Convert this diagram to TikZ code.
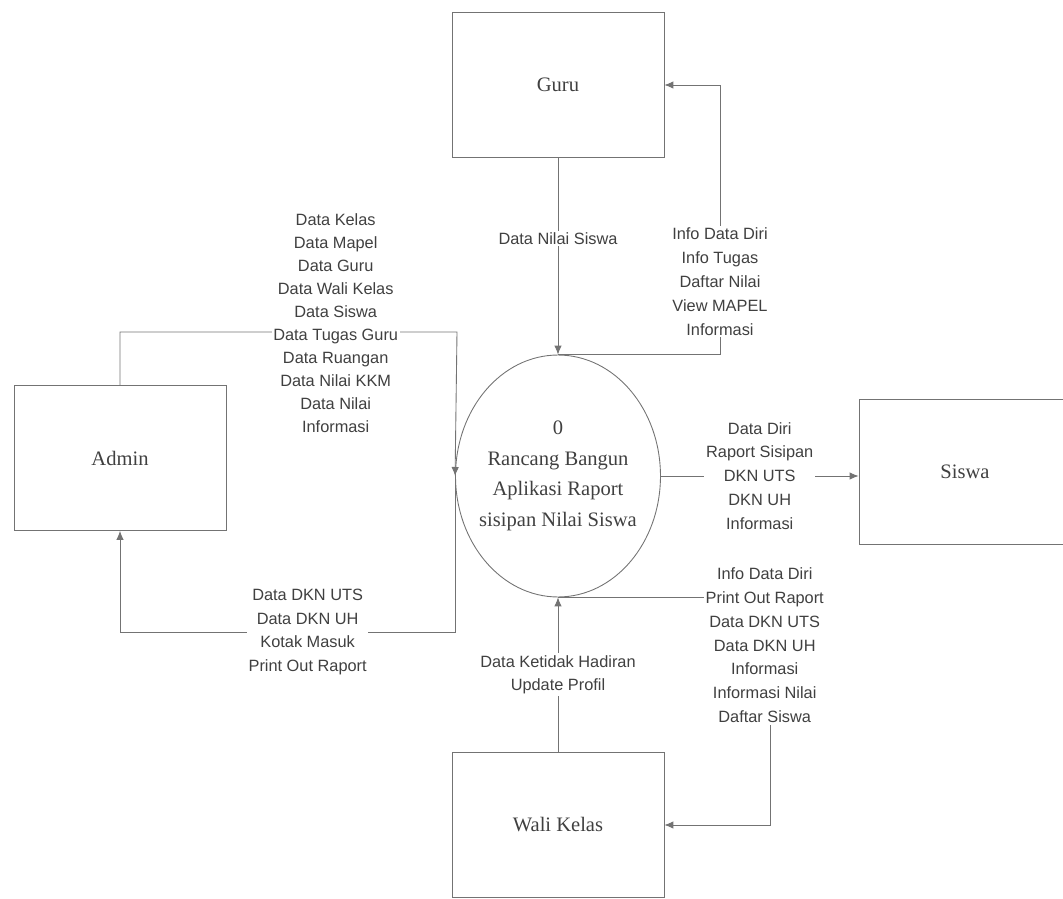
\documentclass[tikz,border=0pt]{standalone}
\usepackage{fontspec}
\setmainfont{Liberation Serif}
\setsansfont{Liberation Sans}
\usetikzlibrary{arrows.meta,shapes.geometric}

\begin{document}
\begin{tikzpicture}[x=0.02cm, y=-0.02cm, >={Latex[length=1.8mm,width=1.5mm]},
  entity/.style={draw=black!55, line width=0.5pt, minimum width=4.24cm, minimum height=2.9cm,
    font=\fontsize{11.7}{14}\selectfont, text=black!75},
  process/.style={draw=black!55, line width=0.5pt, ellipse, minimum width=4.1cm, minimum height=4.84cm},
  proctext/.style={align=center, font=\fontsize{11.7}{17.4}\selectfont, text=black!75},
  flow/.style={draw=black!55, line width=0.5pt, ->},
  lbl/.style={fill=white, align=center, inner sep=1pt, text=black!75,
    font=\sffamily\fontsize{9.3}{13.6}\selectfont}]
  \clip (0,0) rectangle (1063,899);
  % external entities and the process
  \node[entity] (guru) at (558,85) {Guru};
  \node[entity] (admin) at (120,458) {Admin};
  \node[entity] (siswa) at (965,472) {Siswa};
  \node[entity] (wali) at (558,825) {Wali Kelas};
  \node[process] (proc) at (558,476) {};
  \node[proctext] (proctxt) at (proc.center) {0\\Rancang Bangun\\Aplikasi Raport\\sisipan Nilai Siswa};
  % bends
  \coordinate (gurubend) at (720,85);
  \coordinate (admtop) at (457,332);
  \coordinate (admlow) at (120,632);
  \coordinate (walibend) at (770,825);
  % flows
  \draw[flow] (guru.south) -- node[lbl, pos=0.41] {Data Nilai Siswa} (proc.north);
  \draw[flow] (proc.north) -| node[lbl, pos=0.635]
    {Info Data Diri\\Info Tugas\\Daftar Nilai\\View MAPEL\\Informasi} (gurubend) -- (guru.east);
  \draw[flow] (admin.north) |- node[lbl, pos=0.82, yshift=5pt, font=\sffamily\fontsize{9.3}{13.1}\selectfont]
    {Data Kelas\\Data Mapel\\Data Guru\\Data Wali Kelas\\Data Siswa\\Data Tugas Guru\\Data Ruangan\\Data Nilai KKM\\Data Nilai\\Informasi} (admtop) -- (proc.west);
  \draw[flow] (proc.west) |- node[lbl, pos=0.72]
    {Data DKN UTS\\Data DKN UH\\Kotak Masuk\\Print Out Raport} (admlow) -- (admin.south);
  \draw[flow] (proc.east) -- node[lbl]
    {Data Diri\\Raport Sisipan\\DKN UTS\\DKN UH\\Informasi} (proc.east -| siswa.west);
  \draw[flow] (proc.south) -| node[lbl, pos=0.605, xshift=-3pt]
    {Info Data Diri\\Print Out Raport\\Data DKN UTS\\Data DKN UH\\Informasi\\Informasi Nilai\\Daftar Siswa} (walibend) -- (wali.east);
  \draw[flow] (wali.north) -- node[lbl] {Data Ketidak Hadiran\\Update Profil} (proc.south);
\end{tikzpicture}
\end{document}
